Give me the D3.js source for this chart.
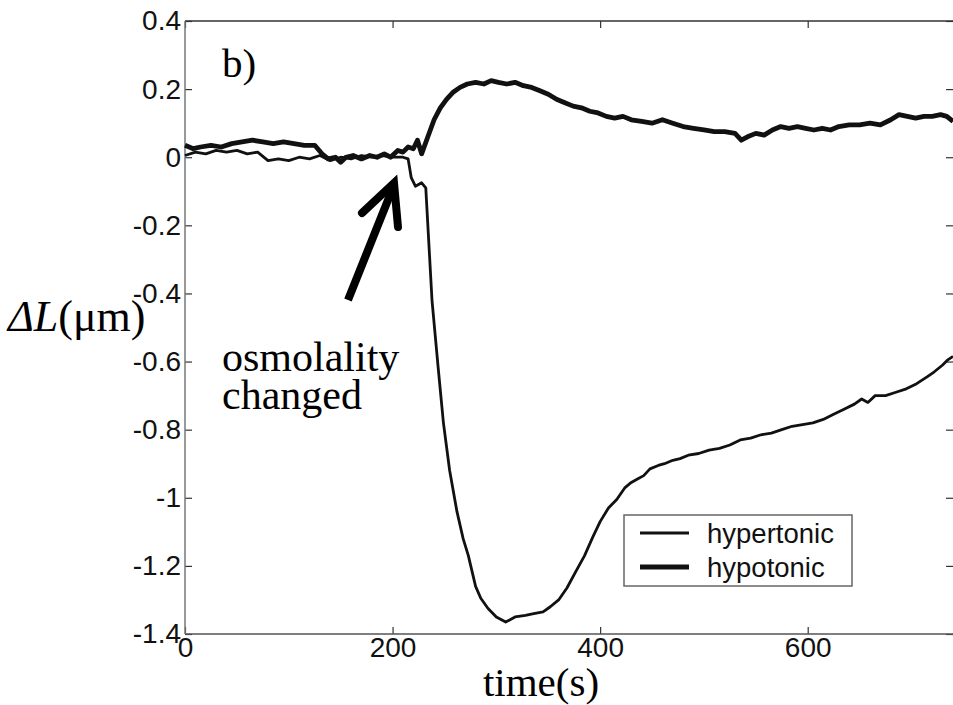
<!DOCTYPE html>
<html>
<head>
<meta charset="utf-8">
<script src="https://cdn.jsdelivr.net/npm/d3@7"></script>
<style>
  body { margin: 0; background: #fff; }
  svg { display: block; }
</style>
</head>
<body>
<div id="chart"></div>
<script>
// Data.
var hyperT = [0, 10, 20, 30, 40, 50, 60, 70, 80, 90, 100, 110, 120, 130, 140, 150, 160, 170, 180, 190, 200, 210, 215, 218, 222, 228, 232, 238, 244, 249, 255, 262, 268, 273, 280, 285, 292, 300, 309, 318, 328, 336, 345, 352, 360, 368, 376, 385, 393, 400, 408, 416, 424, 430, 436, 442, 448, 456, 462, 470, 477, 485, 495, 505, 515, 525, 535, 545, 555, 565, 575, 585, 595, 605, 615, 625, 635, 645, 652, 658, 665, 675, 685, 695, 705, 715, 722, 730, 735, 740];
var hyperV = [0.005, 0.015, 0.01, 0.02, 0.015, 0.02, 0.01, 0.015, -0.01, -0.005, -0.01, 0.0, -0.005, 0.005, -0.01, 0.0, -0.005, 0.005, 0.0, 0.005, 0.0, 0.0, -0.005, -0.06, -0.085, -0.075, -0.09, -0.42, -0.62, -0.78, -0.92, -1.04, -1.12, -1.17, -1.26, -1.295, -1.325, -1.35, -1.365, -1.35, -1.345, -1.34, -1.335, -1.32, -1.3, -1.265, -1.22, -1.17, -1.115, -1.07, -1.03, -1.005, -0.97, -0.955, -0.945, -0.935, -0.915, -0.905, -0.9, -0.89, -0.885, -0.875, -0.87, -0.86, -0.855, -0.845, -0.83, -0.825, -0.815, -0.81, -0.8, -0.79, -0.785, -0.78, -0.77, -0.755, -0.74, -0.725, -0.71, -0.72, -0.7, -0.7, -0.69, -0.68, -0.665, -0.645, -0.63, -0.61, -0.595, -0.585];

var hypoT = [0, 8, 15, 25, 35, 45, 55, 65, 75, 85, 95, 105, 115, 125, 132, 138, 145, 150, 155, 162, 170, 178, 185, 192, 198, 205, 210, 215, 220, 224, 228, 234, 240, 246, 252, 258, 265, 272, 280, 288, 295, 302, 310, 318, 326, 334, 342, 350, 358, 366, 374, 382, 390, 398, 406, 414, 422, 430, 440, 450, 460, 470, 480, 490, 500, 510, 520, 530, 536, 542, 550, 558, 566, 574, 582, 590, 598, 606, 614, 622, 630, 640, 650, 660, 670, 680, 688, 696, 704, 712, 720, 728, 734, 740];
var hypoV = [0.035, 0.025, 0.03, 0.035, 0.03, 0.04, 0.045, 0.05, 0.045, 0.04, 0.045, 0.04, 0.035, 0.035, 0.01, -0.005, 0.0, -0.015, 0.0, 0.005, -0.005, 0.005, 0.0, 0.01, 0.0, 0.02, 0.015, 0.03, 0.025, 0.05, 0.01, 0.06, 0.11, 0.145, 0.17, 0.19, 0.205, 0.215, 0.22, 0.215, 0.225, 0.22, 0.215, 0.22, 0.21, 0.205, 0.195, 0.185, 0.17, 0.16, 0.15, 0.145, 0.135, 0.13, 0.12, 0.115, 0.12, 0.11, 0.105, 0.1, 0.11, 0.1, 0.09, 0.085, 0.08, 0.075, 0.075, 0.07, 0.05, 0.06, 0.07, 0.065, 0.08, 0.09, 0.085, 0.09, 0.085, 0.08, 0.085, 0.08, 0.09, 0.095, 0.095, 0.1, 0.095, 0.11, 0.125, 0.12, 0.115, 0.12, 0.12, 0.125, 0.12, 0.105];

var xTicks = [0, 200, 400, 600];
var yTicks = [0.4, 0.2, 0, -0.2, -0.4, -0.6, -0.8, -1, -1.2, -1.4];
var legendLabels = ["hypertonic", "hypotonic"];

// Layout (plot box in page pixels).
var W = 953, H = 705;
var box = {left: 185, right: 953, top: 21, bottom: 634};

var svg = d3.select("#chart").append("svg")
    .attr("width", W)
    .attr("height", H);

// Scales.
var x = d3.scaleLinear().domain([0, 740]).range([box.left, box.right]);
var y = d3.scaleLinear().domain([-1.4, 0.4]).range([box.bottom, box.top]);

var fmt = function(d) { return String(d); };
var sans = "Liberation Sans, Arial, sans-serif";
var serif = "Liberation Serif, Times New Roman, serif";

// Axes, ticks pointing inward.
var gx = svg.append("g")
    .attr("transform", "translate(0," + box.bottom + ")")
    .call(d3.axisBottom(x).tickValues(xTicks).tickSize(-7).tickPadding(9).tickFormat(fmt));
var gxt = svg.append("g")
    .attr("transform", "translate(0," + box.top + ")")
    .call(d3.axisTop(x).tickValues(xTicks).tickSize(-7).tickFormat(""));
var gy = svg.append("g")
    .attr("transform", "translate(" + box.left + ",0)")
    .call(d3.axisLeft(y).tickValues(yTicks).tickSize(-7).tickPadding(4).tickFormat(fmt));
var gyr = svg.append("g")
    .attr("transform", "translate(" + box.right + ",0)")
    .call(d3.axisRight(y).tickValues(yTicks).tickSize(-7).tickFormat(""));

[gx, gxt, gy, gyr].forEach(function(g) {
  g.select(".domain").remove();
  g.selectAll(".tick line").attr("stroke", "#333").attr("stroke-width", 1.2);
  g.selectAll(".tick text")
    .attr("font-family", sans)
    .attr("font-size", 28)
    .attr("fill", "#111");
});
gx.selectAll(".tick text").attr("dy", "0.5em");

// Frame.
svg.append("line").attr("x1", box.left).attr("x2", box.right).attr("y1", box.top).attr("y2", box.top)
    .attr("stroke", "#333").attr("stroke-width", 1.5);
svg.append("line").attr("x1", box.left).attr("x2", box.right).attr("y1", box.bottom).attr("y2", box.bottom)
    .attr("stroke", "#555").attr("stroke-width", 1.5);
svg.append("line").attr("x1", box.left).attr("x2", box.left).attr("y1", box.top).attr("y2", box.bottom)
    .attr("stroke", "#777").attr("stroke-width", 1.5);

// Lines.
var line = d3.line()
    .x(function(d) { return x(d[0]); })
    .y(function(d) { return y(d[1]); });

svg.append("path")
    .datum(d3.zip(hyperT, hyperV))
    .attr("fill", "none")
    .attr("stroke", "#111")
    .attr("stroke-width", 2.8)
    .attr("stroke-linejoin", "round")
    .attr("d", line);

svg.append("path")
    .datum(d3.zip(hypoT, hypoV))
    .attr("fill", "none")
    .attr("stroke", "#111")
    .attr("stroke-width", 4.8)
    .attr("stroke-linejoin", "round")
    .attr("d", line);

// Arrow annotation.
svg.append("line")
    .attr("x1", 348).attr("y1", 300).attr("x2", 392).attr("y2", 190)
    .attr("stroke", "#000").attr("stroke-width", 8);
svg.append("polyline")
    .attr("points", "362,213 394,183 398,227")
    .attr("fill", "none").attr("stroke", "#000").attr("stroke-width", 8)
    .attr("stroke-linejoin", "miter").attr("stroke-linecap", "round");

svg.append("text").attr("x", 222).attr("y", 77)
    .attr("font-family", serif).attr("font-size", 41).text("b)");

svg.append("text").attr("x", 222).attr("y", 371)
    .attr("font-family", serif).attr("font-size", 42).text("osmolality");
svg.append("text").attr("x", 222).attr("y", 409)
    .attr("font-family", serif).attr("font-size", 42).text("changed");

var yl = svg.append("text").attr("x", 8).attr("y", 331)
    .attr("font-family", serif).attr("font-size", 44);
yl.append("tspan").attr("font-style", "italic").text("\u0394L");
yl.append("tspan").text("(\u03bcm)");

svg.append("text").attr("x", 541).attr("y", 696)
    .attr("text-anchor", "middle")
    .attr("font-family", serif).attr("font-size", 41).text("time(s)");

// Legend.
var lg = svg.append("g");
lg.append("rect")
    .attr("x", 624).attr("y", 515).attr("width", 228).attr("height", 71)
    .attr("fill", "#fff").attr("stroke", "#666").attr("stroke-width", 1.5);
var widths = [2.8, 4.8];
legendLabels.forEach(function(name, i) {
  var ly = 533 + i * 34;
  lg.append("line")
      .attr("x1", 640).attr("x2", 689).attr("y1", ly).attr("y2", ly)
      .attr("stroke", "#111").attr("stroke-width", widths[i]);
  lg.append("text")
      .attr("x", 707).attr("y", ly + 10)
      .attr("font-family", sans)
      .attr("font-size", 27.5)
      .attr("fill", "#111")
      .text(name);
});
</script>
</body>
</html>
